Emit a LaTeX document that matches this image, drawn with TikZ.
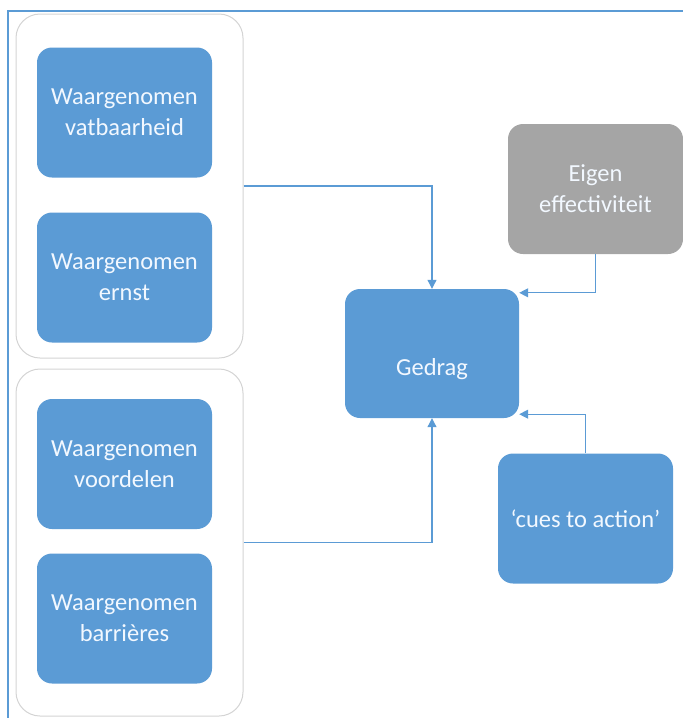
\documentclass[tikz,border=0pt]{standalone}
\usepackage{fontspec}
\setmainfont{Carlito}
\usetikzlibrary{arrows.meta}
\definecolor{accentblue}{HTML}{5B9BD5}
\definecolor{accentgray}{HTML}{A5A5A5}
\definecolor{groupline}{HTML}{D4D4D4}
\definecolor{labeltext}{HTML}{F2F8FF}
\tikzset{
  cardtext/.style={text=labeltext, font=\fontsize{24.5}{31}\selectfont, align=center},
  card/.style={rectangle, rounded corners=15pt, fill=accentblue, draw=none,
    minimum width=175pt, minimum height=130pt, cardtext},
  graycard/.style={card, fill=accentgray},
  groupbox/.style={rectangle, rounded corners=24pt, draw=groupline, line width=1pt,
    fill=white, minimum width=227pt},
  link/.style={draw=accentblue, line width=1.1pt,
    -{Triangle[length=9pt,width=9pt]}},
  frameline/.style={draw=accentblue, line width=2.2pt}
}
\begin{document}
\begin{tikzpicture}[x=1pt, y=-1pt]
  \useasboundingbox (0,0) rectangle (683,718);
  % outer frame, top and left edges only
  \draw[frameline] (683,11) -- (8,11) -- (8,718);

  % grouping panels
  \node[groupbox, minimum height=344pt] (g1) at (129.5,186) {};
  \node[groupbox, minimum height=347pt] (g2) at (129.5,542.5) {};

  % perceived factors
  \node[card] (vat) at (124.5,112.5) {Waargenomen\\vatbaarheid};
  \node[card] (ern) at (124.5,277.5) {Waargenomen\\ernst};
  \node[card] (voo) at (124.5,464) {Waargenomen\\voordelen};
  \node[card] (bar) at (124.5,618.5) {Waargenomen\\barrières};

  % behaviour (label sits below the middle of its box) and its other determinants
  \node[card, minimum width=174pt, minimum height=129pt] (ged) at (432,353.5) {};
  \node[cardtext] (gedtext) at ([yshift=-16pt]ged.center) {Gedrag};
  \node[graycard] (eig) at (595.5,189) {Eigen\\effectiviteit};
  \node[card] (cue) at (585.5,518.5) {‘cues to action’};

  % connectors
  \draw[link] (g1.east) -| (ged.north);
  \draw[link] (g2.east) -| (ged.south);
  \draw[link] (eig.south) |- ([yshift=-4pt]ged.north east);
  \draw[link] (cue.north) |- ([yshift=4pt]ged.south east);
\end{tikzpicture}
\end{document}
